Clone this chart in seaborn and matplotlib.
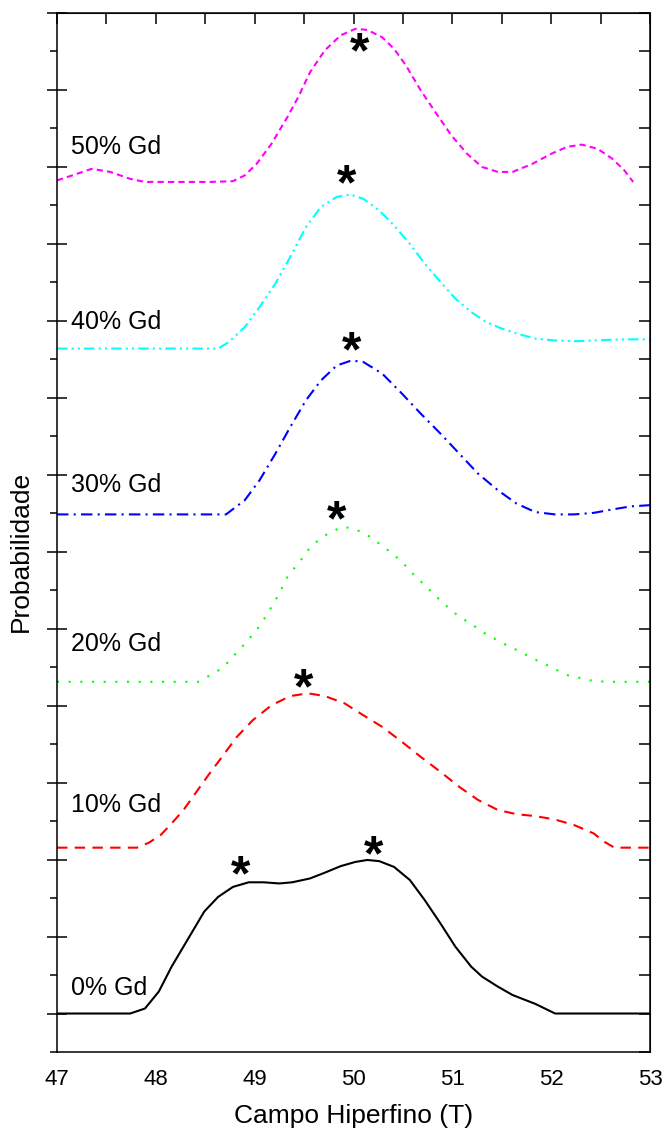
import numpy as np
import matplotlib
matplotlib.use("Agg")
import matplotlib.pyplot as plt
import matplotlib.transforms as mtransforms
import seaborn as sns

# --- data (y in offset "probability" units) ---
x_0 = [47.0, 47.74, 47.89, 48.03, 48.16, 48.34, 48.49, 48.63, 48.78, 48.94, 49.09, 49.25,
       49.38, 49.56, 49.71, 49.87, 50.02, 50.14, 50.26, 50.41, 50.57, 50.72, 50.88, 51.03,
       51.19, 51.30, 51.46, 51.61, 51.84, 52.04, 53.0]
y_0 = [1.00, 1.00, 1.13, 1.57, 2.22, 3.00, 3.65, 4.03, 4.29, 4.41, 4.41, 4.38,
       4.41, 4.51, 4.66, 4.83, 4.94, 4.99, 4.96, 4.81, 4.47, 3.95, 3.34, 2.74,
       2.22, 1.96, 1.70, 1.48, 1.25, 1.00, 1.00]

x_10 = [47.0, 47.81, 47.93, 48.05, 48.16, 48.28, 48.40, 48.53, 48.67, 48.82, 48.98, 49.17,
        49.36, 49.54, 49.71, 49.91, 50.10, 50.29, 50.49, 50.68, 50.88, 51.07, 51.26, 51.46,
        51.65, 51.84, 52.04, 52.23, 52.43, 52.54, 52.64, 53.0]
y_10 = [5.31, 5.31, 5.44, 5.64, 5.94, 6.29, 6.72, 7.19, 7.67, 8.19, 8.62, 9.01,
        9.25, 9.32, 9.25, 9.06, 8.75, 8.45, 8.06, 7.67, 7.28, 6.89, 6.55, 6.29,
        6.18, 6.13, 6.04, 5.90, 5.68, 5.46, 5.31, 5.31]

x_20 = [47.0, 48.43, 48.55, 48.67, 48.78, 48.90, 49.02, 49.13, 49.23, 49.34, 49.44, 49.54,
        49.66, 49.77, 49.89, 50.00, 50.12, 50.24, 50.37, 50.49, 50.60, 50.72, 50.84, 50.95,
        51.07, 51.19, 51.30, 51.42, 51.55, 51.69, 51.81, 51.92, 52.06, 52.17, 52.31, 52.43,
        52.58, 53.0]
y_20 = [9.62, 9.62, 9.79, 9.97, 10.27, 10.61, 10.96, 11.39, 11.83, 12.39, 12.69, 13.04,
        13.34, 13.51, 13.65, 13.60, 13.47, 13.25, 13.00, 12.74, 12.43, 12.13, 11.83, 11.57,
        11.31, 11.13, 10.92, 10.75, 10.57, 10.40, 10.23, 10.10, 9.92, 9.79, 9.71, 9.64,
        9.62, 9.62]

x_30 = [47.0, 48.71, 48.90, 49.05, 49.21, 49.36, 49.52, 49.67, 49.83, 49.98, 50.10, 50.29,
        50.49, 50.68, 50.88, 51.07, 51.26, 51.46, 51.65, 51.84, 52.04, 52.23, 52.43, 52.62,
        52.81, 53.0]
y_30 = [13.97, 13.97, 14.34, 14.86, 15.55, 16.24, 16.94, 17.45, 17.84, 17.97, 17.93, 17.63,
        17.11, 16.59, 16.07, 15.55, 15.03, 14.60, 14.25, 14.03, 13.97, 13.97, 14.01, 14.10,
        14.18, 14.21]

x_40 = [47.0, 48.63, 48.74, 48.90, 49.05, 49.21, 49.36, 49.52, 49.67, 49.83, 49.97, 50.10,
        50.26, 50.41, 50.57, 50.72, 50.88, 51.03, 51.19, 51.34, 51.50, 51.65, 51.84, 52.04,
        52.23, 52.43, 52.62, 52.81, 53.0]
y_40 = [18.28, 18.28, 18.45, 18.84, 19.36, 19.97, 20.66, 21.44, 21.96, 22.22, 22.28, 22.17,
        21.87, 21.48, 21.00, 20.49, 20.01, 19.58, 19.23, 18.97, 18.80, 18.67, 18.54, 18.49,
        18.47, 18.49, 18.51, 18.52, 18.52]

x_50 = [47.0, 47.155, 47.35, 47.54, 47.74, 47.89, 48.16, 48.55, 48.78, 48.90, 49.02, 49.17,
        49.33, 49.44, 49.56, 49.71, 49.87, 50.02, 50.14, 50.29, 50.41, 50.53, 50.68, 50.84,
        50.99, 51.15, 51.30, 51.46, 51.61, 51.81, 52.0, 52.16, 52.31, 52.47, 52.62, 52.74,
        52.83]
y_50 = [22.65, 22.78, 22.95, 22.87, 22.69, 22.61, 22.61, 22.61, 22.63, 22.78, 23.08, 23.60,
        24.29, 24.81, 25.46, 26.03, 26.42, 26.59, 26.56, 26.37, 26.07, 25.64, 24.99, 24.38,
        23.82, 23.34, 23.00, 22.87, 22.87, 23.08, 23.34, 23.52, 23.58, 23.47, 23.21, 22.91,
        22.61]

labels = ["0% Gd", "10% Gd", "20% Gd", "30% Gd", "40% Gd", "50% Gd"]
colors = ["black", "#ff0000", "#00ff00", "#0000ff", "#00ffff", "#ff00ff"]

# peak markers (asterisks)
star_x = [48.86, 50.20, 49.50, 49.83, 49.98, 49.93, 50.06]
star_y = [4.81, 5.33, 9.66, 14.05, 18.43, 22.78, 26.20]

sns.set_style("white")
plt.rcParams["font.family"] = ["Liberation Sans", "DejaVu Sans"]
plt.rcParams.update({"text.color": "black", "axes.labelcolor": "black",
                     "xtick.color": "black", "ytick.color": "black"})

fig = plt.figure(figsize=(6.65, 11.33), dpi=100)
ax = fig.add_axes([57 / 665, 81 / 1133, 593 / 665, 1039 / 1133])

series = [(x_0, y_0), (x_10, y_10), (x_20, y_20), (x_30, y_30), (x_40, y_40), (x_50, y_50)]
styles = ["-", (0, (5, 3.5)), (0, (1, 4.6)), (0, (5.5, 2.5, 1, 2.5)),
          (0, (5, 2, 1, 2, 1, 2)), (0, (3, 2))]
for (xs, ys), col, ls in zip(series, colors, styles):
    sns.lineplot(x=xs, y=ys, color=col, linestyle=ls, linewidth=1.5,
                 sort=False, estimator=None, ax=ax)

# curve labels
label_x = [47.14] * 6
label_y = [1.47, 6.23, 10.43, 14.54, 18.80, 23.33]
for lx, ly, txt in zip(label_x, label_y, labels):
    ax.text(lx, ly, txt, fontsize=18, ha="left", va="baseline")

star_fs = 36
star_tr = mtransforms.offset_copy(ax.transData, fig=fig, y=-0.47 * star_fs, units="points")
for sx, sy in zip(star_x, star_y):
    ax.text(sx, sy, "*", fontsize=star_fs, fontweight="bold", ha="center",
            va="baseline", transform=star_tr)

ax.set_xlim(47, 53)
ax.set_ylim(0, 27)
ax.set_xticks(range(47, 54))
ax.set_xticks(np.arange(47.5, 53, 1.0), minor=True)
ax.set_yticks(range(1, 28, 2))
ax.set_yticks(range(0, 28, 2), minor=True)
ax.set_yticklabels([])
ax.tick_params(axis="x", which="major", direction="out", length=7, width=1.1,
               labelsize=16, pad=5)
ax.tick_params(axis="x", which="minor", direction="out", length=4, width=1.1)
ax.tick_params(axis="y", which="major", direction="inout", length=14, width=1.1, left=True)
ax.tick_params(axis="y", which="minor", direction="out", length=5, width=1.1, left=True)
for sp in ax.spines.values():
    sp.set_linewidth(1.1)
    sp.set_color("black")

top = ax.secondary_xaxis("top")
top.set_xticks(np.arange(47, 53.01, 0.5))
top.tick_params(direction="in", length=8, width=1.1, labeltop=False)
right = ax.secondary_yaxis("right")
right.set_yticks(range(0, 28))
right.tick_params(direction="in", length=8, width=1.1, labelright=False)

ax.set_xlabel("Campo Hiperfino (T)", fontsize=19, labelpad=10)
ax.set_ylabel("Probabilidade", fontsize=19)
ax.yaxis.set_label_coords(-0.040, 0.482)

fig.savefig("out.png", dpi=100)
